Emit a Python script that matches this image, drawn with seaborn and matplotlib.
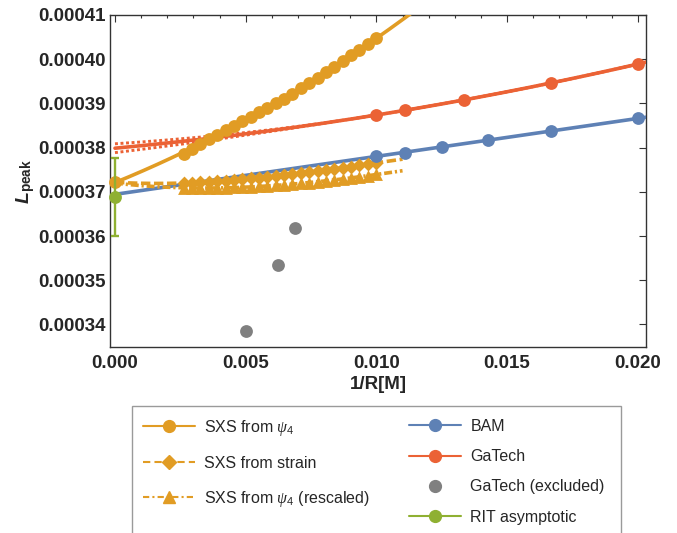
import numpy as np
import pandas as pd
import matplotlib
matplotlib.use("Agg")
import matplotlib.pyplot as plt
import seaborn as sns
from matplotlib.lines import Line2D
from matplotlib.patches import Rectangle
from matplotlib.ticker import MultipleLocator

# ---------------- data (L values in units of 1e-4) ----------------
L_UNIT = 1e-4

sxs_x = [0.00263, 0.00295, 0.00327, 0.00359, 0.00391, 0.00423, 0.00455, 0.00487,
         0.00519, 0.00551, 0.00583, 0.00615, 0.00647, 0.00679, 0.00711, 0.00743,
         0.00775, 0.00807, 0.00839, 0.00871, 0.00903, 0.00935, 0.00967, 0.01000]
sxs_psi4 = [3.786, 3.797, 3.808, 3.819, 3.829, 3.840, 3.850, 3.861,
            3.870, 3.880, 3.890, 3.900, 3.911, 3.922, 3.934, 3.946,
            3.958, 3.970, 3.983, 3.996, 4.009, 4.021, 4.034, 4.047]
sxs_strain = [3.7190, 3.7201, 3.7213, 3.7225, 3.7239, 3.7253, 3.7269, 3.7285,
              3.7302, 3.7320, 3.7338, 3.7358, 3.7378, 3.7399, 3.7422, 3.7444,
              3.7468, 3.7493, 3.7519, 3.7545, 3.7572, 3.7600, 3.7629, 3.7660]
sxs_rescaled = [3.7085, 3.7084, 3.7084, 3.7086, 3.7089, 3.7093, 3.7099, 3.7106,
                3.7114, 3.7123, 3.7134, 3.7146, 3.7160, 3.7175, 3.7191, 3.7208,
                3.7227, 3.7247, 3.7268, 3.7291, 3.7315, 3.7340, 3.7366, 3.7395]
# extrapolated (1/R -> 0) SXS values
sxs_extrap_x = [0.0]
sxs_psi4_extrap = [3.722]
sxs_strain_extrap = [3.722]
sxs_rescaled_extrap = [3.720]

bam_x = [1/100, 1/90, 1/80, 1/70, 1/60, 1/50]
bam_y = [3.782, 3.788, 3.801, 3.817, 3.838, 3.866]

gatech_x = [1/100, 1/90, 1/75, 1/60, 1/50]
gatech_y = [3.874, 3.884, 3.908, 3.946, 3.989]
gatech_band_halfwidth_at_zero = 0.010   # in 1e-4 units
gatech_band_vanish_x = 0.009

gatech_excl_x = [1/200, 1/160, 1/145]
gatech_excl_y = [3.386, 3.534, 3.618]

rit_x = [0.0]
rit_y = [3.688]
rit_err = [0.088]

y_ticks = [3.4, 3.5, 3.6, 3.7, 3.8, 3.9, 4.0, 4.1]
y_tick_labels = ["0.00034", "0.00035", "0.00036", "0.00037",
                 "0.00038", "0.00039", "0.00040", "0.00041"]
x_ticks = [0.000, 0.005, 0.010, 0.015, 0.020]
x_tick_labels = ["0.000", "0.005", "0.010", "0.015", "0.020"]

left_labels = [r"SXS from $\psi_4$", "SXS from strain", r"SXS from $\psi_4$ (rescaled)"]
right_labels = ["BAM", "GaTech", "GaTech (excluded)", "RIT asymptotic"]

# ---------------- style ----------------
ORANGE = "#E19C24"
BLUE = "#5E81B5"
RED = "#EB6235"
GREEN = "#8FB032"
GRAY = "#808080"

sns.set_style("white")
plt.rcParams["font.family"] = ["Liberation Sans", "DejaVu Sans"]
plt.rcParams["mathtext.fontset"] = "custom"
plt.rcParams["mathtext.rm"] = "Liberation Sans"
plt.rcParams["mathtext.it"] = "Liberation Serif:italic"
plt.rcParams["mathtext.bf"] = "Liberation Sans:bold"
plt.rcParams["mathtext.bfit"] = "Liberation Sans:bold:italic"

W, H = 677, 533
fig = plt.figure(figsize=(W / 100, H / 100), dpi=100)
ax = fig.add_axes([110 / W, 1 - 347 / H, (646 - 110) / W, (347 - 15) / H])

def U(v):
    return np.asarray(v, dtype=float) * L_UNIT

LW = 2.6
MS = 85

# --- GaTech fit (quadratic) with dotted band
gx = np.linspace(0.0, 0.0205, 200)
gfit = np.polyval(np.polyfit(gatech_x, gatech_y, 2), gx)
taper = np.clip(1 - gx / gatech_band_vanish_x, 0, None) ** 1.5
hw = gatech_band_halfwidth_at_zero * taper
for sgn in (1, -1):
    sns.lineplot(x=gx, y=U(gfit + sgn * hw), ax=ax, color=RED, lw=2.1,
                 ls=(0, (1.0, 0.9)), errorbar=None, zorder=2)
sns.lineplot(x=gx, y=U(gfit), ax=ax, color=RED, lw=LW, errorbar=None, zorder=3)

# --- BAM fit (linear)
bx = np.linspace(0.0, 0.0205, 50)
bfit = np.polyval(np.polyfit(bam_x, bam_y, 1), bx)
sns.lineplot(x=bx, y=U(bfit), ax=ax, color=BLUE, lw=LW, errorbar=None, zorder=3)

# --- SXS fits (cubic through extrapolated value and data)
fx1 = np.linspace(0.0, 0.0120, 200)
p1 = np.polyfit(np.concatenate([sxs_extrap_x, sxs_x]),
                np.concatenate([sxs_psi4_extrap, sxs_psi4]), 3)
sns.lineplot(x=fx1, y=U(np.polyval(p1, fx1)), ax=ax, color=ORANGE, lw=LW,
             errorbar=None, zorder=4)

fx2 = np.linspace(0.0, 0.0110, 200)
p2 = np.polyfit(np.concatenate([sxs_extrap_x, sxs_x]),
                np.concatenate([sxs_strain_extrap, sxs_strain]), 3)
sns.lineplot(x=fx2, y=U(np.polyval(p2, fx2)), ax=ax, color=ORANGE, lw=LW,
             ls=(0, (2.6, 1.0)), errorbar=None, zorder=4)

p3 = np.polyfit(np.concatenate([sxs_extrap_x, sxs_x]),
                np.concatenate([sxs_rescaled_extrap, sxs_rescaled]), 3)
sns.lineplot(x=fx2, y=U(np.polyval(p3, fx2)), ax=ax, color=ORANGE, lw=LW,
             ls=(0, (2.2, 0.8, 0.6, 0.8)), errorbar=None, zorder=4)

# --- markers
sns.scatterplot(x=sxs_x, y=U(sxs_rescaled), ax=ax, color=ORANGE, marker="^",
                s=85, linewidth=0, zorder=5)
sns.scatterplot(x=sxs_x, y=U(sxs_strain), ax=ax, color=ORANGE, marker="D",
                s=50, linewidth=0, zorder=5)
sns.scatterplot(x=sxs_x, y=U(sxs_psi4), ax=ax, color=ORANGE, marker="o",
                s=MS, linewidth=0, zorder=6)
sns.scatterplot(x=sxs_extrap_x, y=U(sxs_psi4_extrap), ax=ax, color=ORANGE,
                marker="o", s=MS, linewidth=0, zorder=5, clip_on=False)
sns.scatterplot(x=gatech_x, y=U(gatech_y), ax=ax, color=RED, marker="o",
                s=MS, linewidth=0, zorder=6, clip_on=False)
sns.scatterplot(x=bam_x, y=U(bam_y), ax=ax, color=BLUE, marker="o",
                s=MS, linewidth=0, zorder=6, clip_on=False)
sns.scatterplot(x=gatech_excl_x, y=U(gatech_excl_y), ax=ax, color=GRAY,
                marker="o", s=MS, linewidth=0, zorder=6)
ax.errorbar(rit_x, U(rit_y), yerr=U(rit_err), fmt="none", ecolor=GREEN,
            elinewidth=1.7, capsize=2.6, capthick=1.7, zorder=7, clip_on=False)
sns.scatterplot(x=rit_x, y=U(rit_y), ax=ax, color=GREEN, marker="o",
                s=MS, linewidth=0, zorder=8, clip_on=False)

# --- axes
ax.set_xlim(-0.000191, 0.020314)
ax.set_ylim(3.349 * L_UNIT, 4.10 * L_UNIT)
ax.set_xticks(x_ticks)
ax.set_xticklabels(x_tick_labels)
ax.set_yticks(U(y_ticks))
ax.set_yticklabels(y_tick_labels)
ax.xaxis.set_minor_locator(MultipleLocator(0.001))
ax.yaxis.set_minor_locator(MultipleLocator(0.2 * L_UNIT))
ax.tick_params(which="both", direction="in", top=True, right=True,
               color="#333333", width=0.8)
ax.tick_params(which="major", length=5)
ax.tick_params(which="minor", length=2.5)
ax.tick_params(axis="y", which="major", pad=3)
ax.tick_params(axis="x", which="major", pad=6)
for lab in ax.get_xticklabels() + ax.get_yticklabels():
    lab.set_fontweight("bold")
    lab.set_fontsize(13.5)
for sp in ax.spines.values():
    sp.set_color("#333333")
    sp.set_linewidth(1.0)

ax.set_xlabel("1/R[M]", fontsize=13.5, fontweight="bold")
ax.xaxis.set_label_coords(0.5, -0.086)
ax.set_ylabel(r"$\mathbfit{L}_{\mathbf{peak}}$", fontsize=14)
ax.yaxis.set_label_coords(-0.136, 0.5)

# --- legend (two columns + frame)
fig.patches.append(Rectangle((131.7 / W, -0.2), (620.7 - 131.7) / W, 0.2 + 1 - 406 / H,
                             transform=fig.transFigure, fill=False,
                             edgecolor="#9a9a9a", linewidth=1.0))

left_handles = [
    Line2D([], [], color=ORANGE, lw=1.5, marker="o", ms=8.5),
    Line2D([], [], color=ORANGE, lw=1.5, ls=(0, (3.5, 2.0)), marker="D", ms=7),
    Line2D([], [], color=ORANGE, lw=1.5, ls=(0, (3.0, 1.5, 1.0, 1.5)), marker="^", ms=9),
]
right_handles = [
    Line2D([], [], color=BLUE, lw=1.5, marker="o", ms=8.5),
    Line2D([], [], color=RED, lw=1.5, marker="o", ms=8.5),
    Line2D([], [], color=GRAY, lw=0, marker="o", ms=8.5),
    Line2D([], [], color=GREEN, lw=1.5, marker="o", ms=8.5),
]
fs = 11.5
leg1 = fig.legend(handles=left_handles, labels=left_labels, loc="upper left",
                  bbox_to_anchor=(143 / W, 1 - 418 / H), frameon=False,
                  borderpad=0, borderaxespad=0, handlelength=3.25,
                  handletextpad=0.6, labelspacing=1.12, fontsize=fs)
leg2 = fig.legend(handles=right_handles, labels=right_labels, loc="upper left",
                  bbox_to_anchor=(409 / W, 1 - 419 / H), frameon=False,
                  borderpad=0, borderaxespad=0, handlelength=3.25,
                  handletextpad=0.6, labelspacing=0.95, fontsize=fs)

fig.savefig("out.png", dpi=100)
